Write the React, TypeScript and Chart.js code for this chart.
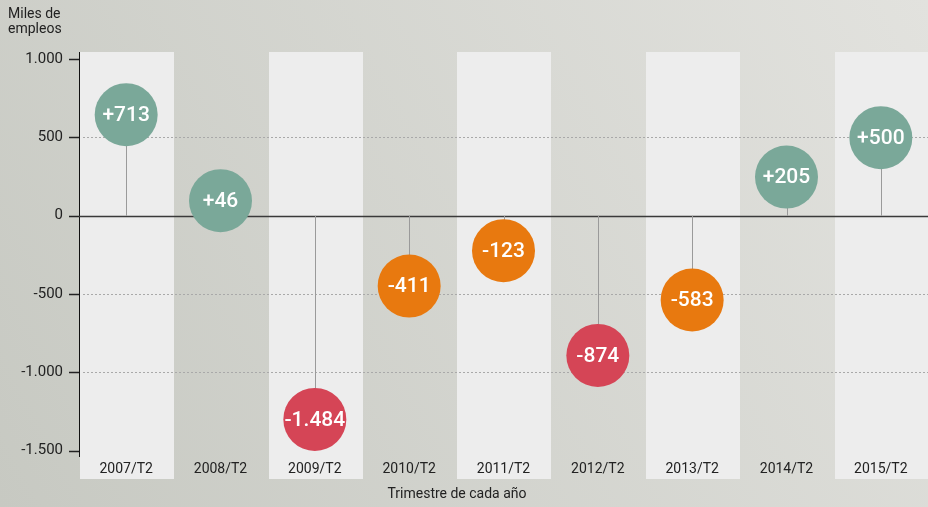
import React, { useEffect, useRef } from "react";
import { Chart, registerables } from "chart.js";

Chart.register(...registerables);

const categories = ["2007/T2", "2008/T2", "2009/T2", "2010/T2", "2011/T2", "2012/T2", "2013/T2", "2014/T2", "2015/T2"];
// change in thousands of jobs (bubble labels)
const changes = [713, 46, -1484, -411, -123, -874, -583, 205, 500];
// vertical position of each bubble centre, as drawn on the value axis
const bubblePositions = [645, 96, -1300, -449, -223, -892, -538, 247, 498];
const bubbleColors = ["#7aa899", "#7aa899", "#d54556", "#e8790f", "#e8790f", "#d54556", "#e8790f", "#7aa899", "#7aa899"];
const yTicks = [-1500, -1000, -500, 0, 500, 1000];
const dottedGrid = [500, -500, -1000];

const FONT = "Roboto";

function fmt(v: number): string {
  const abs = Math.abs(v).toString().replace(/\B(?=(\d{3})+(?!\d))/g, ".");
  return (v < 0 ? "-" : "") + abs;
}
function signed(v: number): string {
  return (v > 0 ? "+" : "") + fmt(v);
}

const decorPlugin = {
  id: "decor",
  beforeDraw(chart: any) {
    const { ctx, chartArea, scales, width, height } = chart;
    const x = scales.x;
    const y = scales.y;
    ctx.save();
    // background
    const g = ctx.createLinearGradient(0, height, width, 0);
    g.addColorStop(0, "#c7c9c2");
    g.addColorStop(1, "#e2e2de");
    ctx.fillStyle = g;
    ctx.fillRect(0, 0, width, height);
    // bands
    const step = (chartArea.right - chartArea.left) / categories.length;
    ctx.fillStyle = "#ededed";
    categories.forEach((_, i) => {
      if (i % 2 === 0) {
        const cx = x.getPixelForValue(i);
        ctx.fillRect(Math.round(cx - step / 2) + 1, chartArea.top, Math.round(step), chartArea.bottom - chartArea.top + 22);
      }
    });
    // dotted grid
    ctx.strokeStyle = "#a9a9a9";
    ctx.lineWidth = 1;
    ctx.setLineDash([2, 2]);
    dottedGrid.forEach((v) => {
      const py = Math.round(y.getPixelForValue(v)) + 0.5;
      ctx.beginPath();
      ctx.moveTo(chartArea.left + 4, py);
      ctx.lineTo(chartArea.right, py);
      ctx.stroke();
    });
    ctx.setLineDash([]);
    // y axis line
    ctx.strokeStyle = "#111";
    ctx.lineWidth = 1;
    ctx.beginPath();
    ctx.moveTo(chartArea.left + 0.5, chartArea.top);
    ctx.lineTo(chartArea.left + 0.5, chartArea.bottom);
    ctx.stroke();
    // tick marks
    ctx.strokeStyle = "#222";
    ctx.lineWidth = 1.5;
    yTicks.forEach((v) => {
      const py = Math.round(y.getPixelForValue(v)) + 0.5;
      ctx.beginPath();
      ctx.moveTo(chartArea.left - 10, py);
      ctx.lineTo(chartArea.left, py);
      ctx.stroke();
    });
    // zero line
    const zy = Math.round(y.getPixelForValue(0)) + 0.5;
    ctx.strokeStyle = "#3a3a3a";
    ctx.lineWidth = 1.5;
    ctx.beginPath();
    ctx.moveTo(chartArea.left, zy);
    ctx.lineTo(chartArea.right, zy);
    ctx.stroke();
    ctx.restore();
  },
  beforeDatasetsDraw(chart: any) {
    const { ctx, scales } = chart;
    const meta = chart.getDatasetMeta(0);
    const zy = scales.y.getPixelForValue(0);
    ctx.save();
    ctx.strokeStyle = "#9a9a9a";
    ctx.lineWidth = 1;
    meta.data.forEach((pt: any) => {
      const px = Math.round(pt.x) + 0.5;
      ctx.beginPath();
      ctx.moveTo(px, zy);
      ctx.lineTo(px, pt.y);
      ctx.stroke();
    });
    ctx.restore();
  },
  afterDatasetsDraw(chart: any) {
    const { ctx } = chart;
    const meta = chart.getDatasetMeta(0);
    ctx.save();
    ctx.fillStyle = "#ffffff";
    ctx.font = `500 21px ${FONT}`;
    ctx.textAlign = "center";
    ctx.textBaseline = "middle";
    meta.data.forEach((pt: any, i: number) => {
      ctx.fillText(signed(changes[i]), pt.x, pt.y + 1);
    });
    ctx.restore();
  },
  afterDraw(chart: any) {
    const { ctx } = chart;
    ctx.save();
    ctx.fillStyle = "#222";
    ctx.font = `14px ${FONT}`;
    ctx.textAlign = "left";
    ctx.textBaseline = "middle";
    ctx.fillText("Miles de", 8, 14);
    ctx.fillText("empleos", 8, 29);
    ctx.textAlign = "center";
    ctx.fillText("Trimestre de cada año", 457, 494);
    ctx.restore();
  },
};

export default function App() {
  const ref = useRef<HTMLCanvasElement | null>(null);
  useEffect(() => {
    if (!ref.current) return;
    Chart.defaults.font.family = FONT;
    const chart = new Chart(ref.current, {
      type: "line",
      data: {
        labels: categories,
        datasets: [
          {
            data: bubblePositions,
            showLine: false,
            pointRadius: 31.5,
            pointHoverRadius: 31.5,
            pointBackgroundColor: bubbleColors,
            pointBorderWidth: 0,
            borderWidth: 0,
          },
        ],
      },
      options: {
        animation: false,
        responsive: false,
        events: [],
        layout: { autoPadding: false, padding: { top: 52, left: 0, right: 0, bottom: 0 } },
        plugins: { legend: { display: false }, tooltip: { enabled: false }, title: { display: false } },
        scales: {
          x: {
            type: "category",
            offset: true,
            grid: { display: false, drawTicks: false, tickLength: 0 },
            border: { display: false },
            ticks: { color: "#222", font: { size: 14, family: FONT }, padding: 4, maxRotation: 0, autoSkip: false },
            afterFit: (s: any) => {
              s.height = 50;
            },
          },
          y: {
            type: "linear",
            min: -1540,
            max: 1045,
            grid: { display: false, drawTicks: false, tickLength: 0 },
            border: { display: false },
            afterBuildTicks: (s: any) => {
              s.ticks = yTicks.map((v) => ({ value: v }));
            },
            ticks: {
              color: "#222",
              font: { size: 15, family: FONT },
              padding: 16,
              callback: (v: any) => fmt(Number(v)),
            },
            afterFit: (s: any) => {
              s.width = 79;
            },
          },
        },
      },
      plugins: [decorPlugin],
    });
    return () => chart.destroy();
  }, []);
  return (
    <div style={{ position: "fixed", left: 0, top: 0, width: 928, height: 507 }}>
      <canvas ref={ref} width={928} height={507} style={{ display: "block" }} />
    </div>
  );
}
